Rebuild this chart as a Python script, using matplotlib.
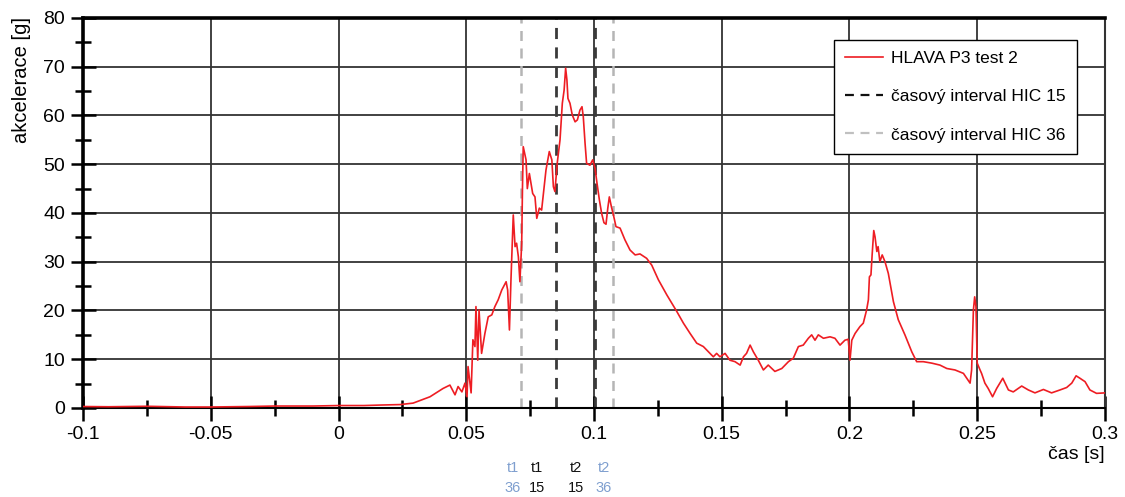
import matplotlib
matplotlib.use("Agg")
import matplotlib.pyplot as plt
from matplotlib.ticker import MultipleLocator
import matplotlib.transforms as mtransforms

plt.rcParams['font.family'] = ['Liberation Sans', 'DejaVu Sans']

# Head acceleration record, time [s] and acceleration [g]
time_s = [
    -0.100, -0.090, -0.075, -0.060, -0.050, -0.035, -0.025, -0.010, 0.000, 0.010,
    0.0162, 0.0241, 0.0292, 0.0358, 0.0409, 0.0436, 0.0456, 0.0468, 0.0483, 0.0495,
    0.0503, 0.0507, 0.0519, 0.0526, 0.0534, 0.0538, 0.0545, 0.0550, 0.0560, 0.0573,
    0.0586, 0.0600, 0.0612, 0.0625, 0.0639, 0.0656, 0.0662, 0.0669, 0.0675, 0.0684,
    0.0691, 0.0697, 0.0704, 0.0710, 0.0717, 0.0720, 0.0723, 0.0734, 0.0739, 0.0747,
    0.0760, 0.0769, 0.0776, 0.0786, 0.0795, 0.0812, 0.0825, 0.0835, 0.0841, 0.0847,
    0.0856, 0.0867, 0.0876, 0.0883, 0.0889, 0.0894, 0.0898, 0.0906, 0.0915, 0.0926,
    0.0935, 0.0945, 0.0953, 0.0958, 0.0965, 0.0971, 0.0984, 0.0995, 0.1004, 0.1011,
    0.1021, 0.1030, 0.1039, 0.1047, 0.1054, 0.1060, 0.1068, 0.1076, 0.1086, 0.1102,
    0.1121, 0.1141, 0.1161, 0.1180, 0.1206, 0.1226, 0.1252, 0.1285, 0.1324, 0.1350,
    0.1376, 0.1402, 0.1428, 0.1454, 0.1467, 0.1480, 0.1493, 0.1513, 0.1532, 0.1552,
    0.1572, 0.1585, 0.1597, 0.1611, 0.1624, 0.1643, 0.1663, 0.1682, 0.1708, 0.1735,
    0.1761, 0.1780, 0.1800, 0.1819, 0.1839, 0.1852, 0.1865, 0.1878, 0.1898, 0.1924,
    0.1943, 0.1963, 0.1982, 0.1995, 0.2002, 0.2009, 0.2022, 0.2041, 0.2054, 0.2067,
    0.2074, 0.2078, 0.2084, 0.2089, 0.2095, 0.2100, 0.2107, 0.2112, 0.2119, 0.2128,
    0.2139, 0.2152, 0.2172, 0.2191, 0.2217, 0.2244, 0.2263, 0.2289, 0.2322, 0.2354,
    0.2381, 0.2413, 0.2446, 0.2472, 0.2478, 0.2485, 0.2490, 0.2495, 0.2500, 0.2511,
    0.2517, 0.2530, 0.2543, 0.2560, 0.2576, 0.2600, 0.2622, 0.2641, 0.2674, 0.2700,
    0.2726, 0.2759, 0.2791, 0.2824, 0.2850, 0.2870, 0.2887, 0.2902, 0.2922, 0.2941,
    0.2967, 0.3000,
]
accel_g = [
    0.3, 0.25, 0.35, 0.2, 0.2, 0.3, 0.4, 0.4, 0.5, 0.5,
    0.6, 0.7, 1.0, 2.3, 4.0, 4.7, 2.7, 4.4, 3.3, 5.1,
    2.3, 8.5, 3.1, 14.0, 12.6, 20.8, 9.8, 20.1, 11.2, 15.3,
    18.7, 19.1, 20.8, 22.2, 24.2, 25.9, 24.2, 16.0, 26.3, 39.6,
    33.1, 33.8, 31.0, 25.9, 33.8, 45.0, 53.6, 50.9, 45.0, 48.1,
    44.0, 43.3, 38.9, 41.0, 40.6, 48.8, 52.6, 50.9, 45.4, 44.4,
    50.2, 55.0, 62.5, 65.2, 69.7, 67.3, 63.5, 62.5, 60.1, 58.7,
    59.1, 61.1, 61.8, 59.8, 54.3, 50.2, 49.8, 50.9, 49.2, 46.4,
    42.7, 39.9, 38.0, 37.7, 41.0, 43.3, 41.3, 39.6, 37.2, 36.9,
    34.5, 32.4, 31.4, 31.6, 30.7, 29.3, 26.3, 23.2, 19.8, 17.4,
    15.3, 13.3, 12.6, 11.2, 10.5, 11.2, 10.5, 11.2, 9.8, 9.5,
    8.8, 10.5, 11.2, 12.9, 11.5, 9.8, 7.8, 8.8, 7.5, 8.1,
    9.5, 10.2, 12.6, 12.9, 14.3, 15.0, 13.9, 15.0, 14.3, 14.6,
    14.3, 12.9, 13.9, 14.1, 9.8, 13.9, 15.3, 16.7, 17.4, 20.1,
    22.2, 26.9, 27.3, 31.7, 36.4, 35.1, 32.1, 33.1, 30.0, 31.4,
    30.0, 27.6, 21.8, 18.1, 15.0, 11.5, 9.5, 9.5, 9.2, 8.8,
    8.1, 7.8, 7.1, 5.1, 7.8, 20.1, 22.8, 20.8, 9.2, 7.8,
    7.1, 5.1, 4.0, 2.3, 4.0, 6.1, 3.7, 3.3, 4.5, 3.7,
    3.1, 3.8, 3.1, 3.7, 4.2, 5.1, 6.6, 6.1, 5.4, 3.7,
    3.0, 3.1,
]

# HIC time windows [s]
hic15_window = [0.0851, 0.1005]
hic36_window = [0.0714, 0.1074]

# Marker labels under the time axis
marker_texts = ["t1\n36", "t1\n15", "t2\n15", "t2\n36"]
marker_pos = [0.0683, 0.0777, 0.0930, 0.1039]
marker_colors = ["#7f9fcf", "#111111", "#111111", "#7f9fcf"]

x_ticks = [-0.1, -0.05, 0, 0.05, 0.1, 0.15, 0.2, 0.25, 0.3]
x_ticklabels = ["-0.1", "-0.05", "0", "0.05", "0.1", "0.15", "0.2", "0.25", "0.3"]

fig = plt.figure(figsize=(11.25, 4.97), dpi=100)
ax = fig.add_axes([0.0738, 0.1791, 0.9084, 0.7847])

ax.set_xlim(-0.1, 0.3)
ax.set_ylim(0, 80)

ax.set_xticks(x_ticks)
ax.set_xticklabels(x_ticklabels)
ax.xaxis.set_minor_locator(MultipleLocator(0.025))
ax.yaxis.set_major_locator(MultipleLocator(10))
ax.yaxis.set_minor_locator(MultipleLocator(5))

ax.grid(True, which='major', color='#333333', linewidth=1.3)
ax.set_axisbelow(True)

ax.tick_params(axis='both', which='major', direction='inout', length=18, width=1.8,
               labelsize=14, colors='black', pad=4)
ax.tick_params(axis='both', which='minor', direction='inout', length=11, width=1.8)

for side, lw, col in [('left', 2.6, 'black'), ('top', 2.6, 'black'),
                      ('right', 1.5, '#333333'), ('bottom', 1.5, 'black')]:
    ax.spines[side].set_linewidth(lw)
    ax.spines[side].set_color(col)

# HIC windows
for t in hic36_window:
    ax.axvline(t, color='#b5b5b5', linestyle=(0, (4, 3)), linewidth=1.8, zorder=2)
for t in hic15_window:
    ax.axvline(t, color='#3a3a3a', linestyle=(0, (4, 3)), linewidth=2.0, zorder=2)
ax.axhline(0, color='black', linestyle=(0, (4, 3)), linewidth=2.0, zorder=2)

ax.plot(time_s, accel_g, color='#ee1d23', linewidth=1.2, zorder=3)

# Legend proxies
h_curve, = ax.plot([], [], color='#ee1d23', linewidth=1.2, label='HLAVA P3 test 2')
h15, = ax.plot([], [], color='#111111', linestyle=(0, (4, 3)), linewidth=1.6,
               label='časový interval HIC 15')
h36, = ax.plot([], [], color='#c0c0c0', linestyle=(0, (4, 3)), linewidth=1.6,
               label='časový interval HIC 36')
leg = ax.legend(handles=[h_curve, h15, h36], loc='upper right',
                bbox_to_anchor=(0.9726, 0.9436), fontsize=12.5, frameon=True,
                fancybox=False, edgecolor='black', framealpha=1.0,
                labelspacing=1.32, handlelength=2.2, handletextpad=0.45,
                borderpad=0.65, borderaxespad=0.0)
leg.get_frame().set_linewidth(1.0)
leg.set_zorder(5)

ax.set_ylabel('akcelerace [g]', fontsize=14.5)
ax.yaxis.set_label_coords(-0.0506, 0.84)
fig.text(0.982, 0.085, 'čas [s]', fontsize=14, ha='right', va='center')

trans = mtransforms.blended_transform_factory(ax.transData, fig.transFigure)
for txt, xp, c in zip(marker_texts, marker_pos, marker_colors):
    ax.text(xp, 0.039, txt, transform=trans, fontsize=10.5, color=c,
            ha='center', va='center', linespacing=1.55)

fig.savefig('out.png', dpi=100)
